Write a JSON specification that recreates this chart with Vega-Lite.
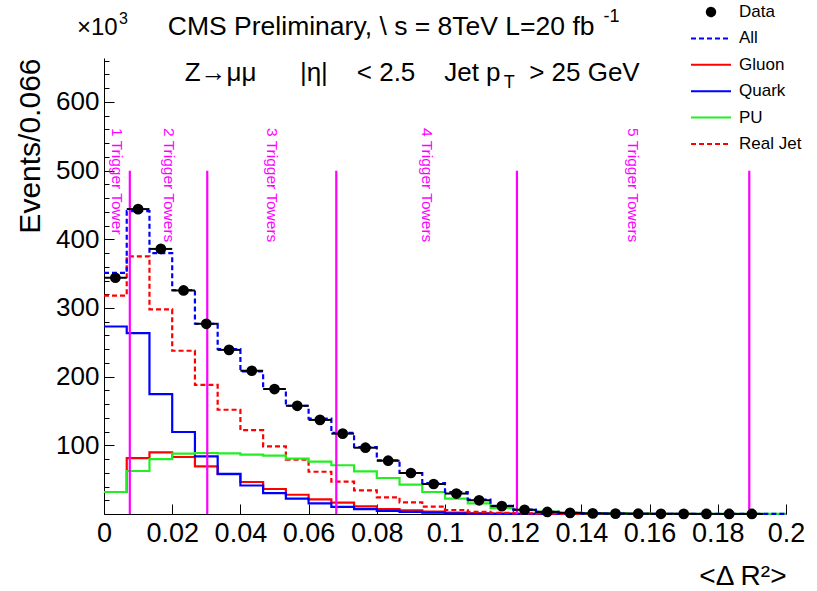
{
  "$schema": "https://vega.github.io/schema/vega-lite/v6.json",
  "width": 682,
  "height": 456,
  "autosize": {"type": "none"},
  "padding": {"left": 104, "top": 58, "right": 31, "bottom": 77},
  "background": "white",
  "config": {"view": {"stroke": null}, "font": "Liberation Sans"},
  "datasets": {
    "hist": [
      {"lo": 0, "Gluon": 32, "Quark": 273, "PU": 32, "Real Jet": 318, "All": 351},
      {"lo": 0.006667, "Gluon": 81.5, "Quark": 263.5, "PU": 62.6, "Real Jet": 375, "All": 441},
      {"lo": 0.013333, "Gluon": 89.8, "Quark": 174.7, "PU": 80, "Real Jet": 298, "All": 380},
      {"lo": 0.02, "Gluon": 83, "Quark": 119.4, "PU": 87.8, "Real Jet": 237.7, "All": 326},
      {"lo": 0.026667, "Gluon": 69.4, "Quark": 83.9, "PU": 88.8, "Real Jet": 188, "All": 277},
      {"lo": 0.033333, "Gluon": 58, "Quark": 58.5, "PU": 88.3, "Real Jet": 151.8, "All": 240},
      {"lo": 0.04, "Gluon": 46.6, "Quark": 41.5, "PU": 86.4, "Real Jet": 122, "All": 207.5},
      {"lo": 0.046667, "Gluon": 36.4, "Quark": 30.5, "PU": 85, "Real Jet": 98.5, "All": 182},
      {"lo": 0.053333, "Gluon": 28, "Quark": 22.5, "PU": 80.5, "Real Jet": 79, "All": 157.6},
      {"lo": 0.06, "Gluon": 21.3, "Quark": 15.5, "PU": 76.3, "Real Jet": 61.5, "All": 139},
      {"lo": 0.066667, "Gluon": 16.5, "Quark": 10.5, "PU": 71, "Real Jet": 47, "All": 118},
      {"lo": 0.073333, "Gluon": 11, "Quark": 7, "PU": 62, "Real Jet": 34.4, "All": 97.5},
      {"lo": 0.08, "Gluon": 7.3, "Quark": 4.5, "PU": 52.4, "Real Jet": 24.3, "All": 78},
      {"lo": 0.086667, "Gluon": 5.3, "Quark": 3, "PU": 42.7, "Real Jet": 17, "All": 59.7},
      {"lo": 0.093333, "Gluon": 3.5, "Quark": 2, "PU": 32, "Real Jet": 10.8, "All": 45},
      {"lo": 0.1, "Gluon": 2, "Quark": 1, "PU": 22.5, "Real Jet": 5.8, "All": 32},
      {"lo": 0.106667, "Gluon": 1, "Quark": 0.6, "PU": 15.5, "Real Jet": 3.2, "All": 21},
      {"lo": 0.113333, "Gluon": 0.5, "Quark": 0.3, "PU": 8.7, "Real Jet": 1.5, "All": 12},
      {"lo": 0.12, "Gluon": 0.3, "Quark": 0.2, "PU": 5.5, "Real Jet": 0.8, "All": 6.3},
      {"lo": 0.126667, "Gluon": 0.1, "Quark": 0.1, "PU": 3.4, "Real Jet": 0.4, "All": 3},
      {"lo": 0.133333, "Gluon": 0.1, "Quark": 0.1, "PU": 2, "Real Jet": 0.2, "All": 1.6},
      {"lo": 0.14, "Gluon": 0.1, "Quark": 0.05, "PU": 1.2, "Real Jet": 0.1, "All": 0.9},
      {"lo": 0.146667, "Gluon": 0.05, "Quark": 0.05, "PU": 0.8, "Real Jet": 0.1, "All": 0.6},
      {"lo": 0.153333, "Gluon": 0.05, "Quark": 0.03, "PU": 0.5, "Real Jet": 0.1, "All": 0.4},
      {"lo": 0.16, "Gluon": 0.03, "Quark": 0.02, "PU": 0.4, "Real Jet": 0.05, "All": 0.3},
      {"lo": 0.166667, "Gluon": 0.02, "Quark": 0.02, "PU": 0.3, "Real Jet": 0.05, "All": 0.2},
      {"lo": 0.173333, "Gluon": 0.02, "Quark": 0.01, "PU": 0.2, "Real Jet": 0.03, "All": 0.15},
      {"lo": 0.18, "Gluon": 0.01, "Quark": 0.01, "PU": 0.2, "Real Jet": 0.02, "All": 0.1},
      {"lo": 0.186667, "Gluon": 0.01, "Quark": 0.01, "PU": 0.1, "Real Jet": 0.02, "All": 0.1},
      {"lo": 0.193333, "Gluon": 0.01, "Quark": 0.01, "PU": 0.1, "Real Jet": 0.01, "All": 0.05},
      {"lo": 0.2, "Gluon": 0.01, "Quark": 0.01, "PU": 0.1, "Real Jet": 0.01, "All": 0.05}
    ],
    "points": [
      {"c": 0.003333, "lo": 0, "hi": 0.006667, "v": 344},
      {"c": 0.01, "lo": 0.006667, "hi": 0.013333, "v": 444},
      {"c": 0.016667, "lo": 0.013333, "hi": 0.02, "v": 386},
      {"c": 0.023333, "lo": 0.02, "hi": 0.026667, "v": 325.5},
      {"c": 0.03, "lo": 0.026667, "hi": 0.033333, "v": 277},
      {"c": 0.036667, "lo": 0.033333, "hi": 0.04, "v": 239},
      {"c": 0.043333, "lo": 0.04, "hi": 0.046667, "v": 208.6},
      {"c": 0.05, "lo": 0.046667, "hi": 0.053333, "v": 182},
      {"c": 0.056667, "lo": 0.053333, "hi": 0.06, "v": 157.6},
      {"c": 0.063333, "lo": 0.06, "hi": 0.066667, "v": 137},
      {"c": 0.07, "lo": 0.066667, "hi": 0.073333, "v": 117},
      {"c": 0.076667, "lo": 0.073333, "hi": 0.08, "v": 96.5},
      {"c": 0.083333, "lo": 0.08, "hi": 0.086667, "v": 77.6},
      {"c": 0.09, "lo": 0.086667, "hi": 0.093333, "v": 59.7},
      {"c": 0.096667, "lo": 0.093333, "hi": 0.1, "v": 43.7},
      {"c": 0.103333, "lo": 0.1, "hi": 0.106667, "v": 29.8},
      {"c": 0.11, "lo": 0.106667, "hi": 0.113333, "v": 20},
      {"c": 0.116667, "lo": 0.113333, "hi": 0.12, "v": 11.5},
      {"c": 0.123333, "lo": 0.12, "hi": 0.126667, "v": 6.2},
      {"c": 0.13, "lo": 0.126667, "hi": 0.133333, "v": 3},
      {"c": 0.136667, "lo": 0.133333, "hi": 0.14, "v": 1.6},
      {"c": 0.143333, "lo": 0.14, "hi": 0.146667, "v": 0.9},
      {"c": 0.15, "lo": 0.146667, "hi": 0.153333, "v": 0.6},
      {"c": 0.156667, "lo": 0.153333, "hi": 0.16, "v": 0.4},
      {"c": 0.163333, "lo": 0.16, "hi": 0.166667, "v": 0.3},
      {"c": 0.17, "lo": 0.166667, "hi": 0.173333, "v": 0.2},
      {"c": 0.176667, "lo": 0.173333, "hi": 0.18, "v": 0.15},
      {"c": 0.183333, "lo": 0.18, "hi": 0.186667, "v": 0.1},
      {"c": 0.19, "lo": 0.186667, "hi": 0.193333, "v": 0.1}
    ],
    "towers": [
      {"x": 0.00757},
      {"x": 0.03028},
      {"x": 0.06812},
      {"x": 0.1211},
      {"x": 0.18923}
    ],
    "towerLabels": [
      {"m": 0.003785, "label": "1 Trigger Tower"},
      {"m": 0.018925, "label": "2 Trigger Towers"},
      {"m": 0.0492, "label": "3 Trigger Towers"},
      {"m": 0.09461, "label": "4 Trigger Towers"},
      {"m": 0.15517, "label": "5 Trigger Towers"}
    ]
  },
  "resolve": {"axis": {"y": "independent"}},
  "layer": [
    {
      "layer": [
        {
          "data": {"name": "hist"},
          "transform": [{"fold": ["Gluon", "Quark", "Real Jet", "PU", "All"], "as": ["s", "v"]}],
          "mark": {"type": "line", "interpolate": "step-after", "strokeWidth": 2.2},
          "encoding": {
            "x": {
              "field": "lo", "type": "quantitative",
              "scale": {"domain": [0, 0.2], "nice": false, "zero": false},
              "axis": {
                "values": [0, 0.005, 0.01, 0.015, 0.02, 0.025, 0.03, 0.035, 0.04, 0.045, 0.05, 0.055, 0.06, 0.065, 0.07, 0.075, 0.08, 0.085, 0.09, 0.095, 0.1, 0.105, 0.11, 0.115, 0.12, 0.125, 0.13, 0.135, 0.14, 0.145, 0.15, 0.155, 0.16, 0.165, 0.17, 0.175, 0.18, 0.185, 0.19, 0.195, 0.2],
                "labelExpr": "abs(datum.value*50 - round(datum.value*50)) < 1e-6 ? format(datum.value, '~g') : ''",
                "tickSize": {"condition": {"test": "abs(datum.value*50 - round(datum.value*50)) < 1e-6", "value": -10}, "value": -5},
                "labelFontSize": {"condition": {"test": "abs(datum.value*50 - round(datum.value*50)) < 1e-6", "value": 27}, "value": 0},
                "labelPadding": 16,
                "labelColor": "black",
                "labelBaseline": "top",
                "labelFlush": false,
                "labelOverlap": false,
                "tickColor": "black",
                "tickWidth": 1,
                "domainColor": "black",
                "domainWidth": 1,
                "grid": false,
                "title": "<Δ R²>",
                "titleFontSize": 28,
                "titleFontWeight": "normal",
                "titleColor": "black",
                "titleX": 682,
                "titleY": 70,
                "titleAlign": "right",
                "titleBaseline": "alphabetic"
              }
            },
            "y": {
              "field": "v", "type": "quantitative",
              "scale": {"domain": [0, 664], "nice": false},
              "axis": {
                "orient": "left",
                "values": [0, 100, 200, 300, 400, 500, 600],
                "labelExpr": "datum.value > 0 ? format(datum.value, 'd') : ''",
                "tickSize": -10,
                "labelFontSize": 26,
                "labelPadding": 15,
                "labelColor": "black",
                "labelOverlap": false,
                "labelFlush": false,
                "tickColor": "black",
                "tickWidth": 1,
                "domainColor": "black",
                "domainWidth": 1,
                "grid": false,
                "title": "Events/0.066",
                "titleFontSize": 30,
                "titleFontWeight": "normal",
                "titleColor": "black",
                "titleX": -74,
                "titleY": 0,
                "titleAngle": -90,
                "titleAlign": "right",
                "titleBaseline": "middle"
              }
            },
            "color": {
              "field": "s", "type": "nominal",
              "scale": {"domain": ["Data", "All", "Gluon", "Quark", "PU", "Real Jet"], "range": ["black", "#0000ff", "#ff0000", "#0000ff", "#22ee22", "#ff0000"]},
              "legend": {
                "orient": "none",
                "legendX": 586,
                "legendY": -56,
                "title": null,
                "symbolType": "stroke",
                "symbolSize": 1600,
                "symbolStrokeWidth": 2,
                "labelFontSize": 17,
                "labelColor": "black",
                "labelOffset": 7,
                "clipHeight": 20,
                "rowPadding": 6.4,
                "padding": 0,
                "encode": {
                  "symbols": {
                    "update": {
                      "shape": {"signal": "datum.value === 'Data' ? 'circle' : 'stroke'"},
                      "size": {"signal": "datum.value === 'Data' ? 70 : 1600"},
                      "fill": {"signal": "datum.value === 'Data' ? 'black' : 'transparent'"},
                      "strokeDash": {"signal": "datum.value === 'All' || datum.value === 'Real Jet' ? [5, 3] : [1, 0]"}
                    }
                  }
                }
              }
            },
            "strokeDash": {
              "field": "s", "type": "nominal",
              "scale": {"domain": ["All", "Gluon", "Quark", "PU", "Real Jet"], "range": [[5, 3], [1, 0], [1, 0], [1, 0], [5, 3]]},
              "legend": null
            }
          }
        },
        {
          "data": {"name": "towers"},
          "mark": {"type": "rule", "color": "#ff00ff", "strokeWidth": 2.2},
          "encoding": {
            "x": {"field": "x", "type": "quantitative"},
            "y": {"datum": 0},
            "y2": {"datum": 500}
          }
        },
        {
          "data": {"name": "towerLabels"},
          "mark": {"type": "text", "angle": 90, "align": "left", "baseline": "middle", "fontSize": 15.5, "color": "#ff00ff", "font": "Liberation Sans"},
          "encoding": {
            "x": {"field": "m", "type": "quantitative"},
            "y": {"datum": 562},
            "text": {"field": "label"}
          }
        },
        {
          "data": {"name": "points"},
          "mark": {"type": "point", "filled": true, "color": "black", "opacity": 1, "size": 115},
          "encoding": {
            "x": {"field": "c", "type": "quantitative"},
            "y": {"field": "v", "type": "quantitative"}
          }
        },
        {
          "data": {"values": [{}]},
          "mark": {"type": "text", "align": "left", "baseline": "alphabetic", "fontSize": 26.5, "color": "black", "font": "Liberation Sans"},
          "encoding": {"x": {"datum": 0.01873}, "y": {"datum": 698}, "text": {"value": "CMS Preliminary, \\ s = 8TeV L=20 fb"}}
        },
        {
          "data": {"values": [{}]},
          "mark": {"type": "text", "align": "left", "baseline": "alphabetic", "fontSize": 18, "color": "black", "font": "Liberation Sans"},
          "encoding": {"x": {"datum": 0.1465}, "y": {"datum": 717}, "text": {"value": "-1"}}
        },
        {
          "data": {"values": [{}]},
          "mark": {"type": "text", "align": "left", "baseline": "alphabetic", "fontSize": 26, "color": "black", "font": "Liberation Sans"},
          "encoding": {"x": {"datum": 0.02367}, "y": {"datum": 630}, "text": {"value": "Z→μμ\u00a0\u00a0\u00a0\u00a0\u00a0\u00a0|η|\u00a0\u00a0\u00a0\u00a0<\u00a02.5\u00a0\u00a0\u00a0\u00a0Jet\u00a0p"}}
        },
        {
          "data": {"values": [{}]},
          "mark": {"type": "text", "align": "left", "baseline": "alphabetic", "fontSize": 18, "color": "black", "font": "Liberation Sans"},
          "encoding": {"x": {"datum": 0.1172}, "y": {"datum": 620}, "text": {"value": "T"}}
        },
        {
          "data": {"values": [{}]},
          "mark": {"type": "text", "align": "right", "baseline": "alphabetic", "fontSize": 26, "color": "black", "font": "Liberation Sans"},
          "encoding": {"x": {"datum": 0.1571}, "y": {"datum": 630}, "text": {"value": ">\u00a025\u00a0GeV"}}
        },
        {
          "data": {"values": [{}]},
          "mark": {"type": "text", "align": "right", "baseline": "alphabetic", "fontSize": 24, "color": "black", "font": "Liberation Sans"},
          "encoding": {"x": {"datum": 0.0040}, "y": {"datum": 698}, "text": {"value": "×10"}}
        },
        {
          "data": {"values": [{}]},
          "mark": {"type": "text", "align": "left", "baseline": "alphabetic", "fontSize": 16, "color": "black", "font": "Liberation Sans"},
          "encoding": {"x": {"datum": 0.0044}, "y": {"datum": 713}, "text": {"value": "3"}}
        }
      ]
    },
    {
      "data": {"name": "points"},
      "mark": {"type": "rule", "color": "black", "strokeWidth": 2},
      "encoding": {
        "x": {"field": "lo", "type": "quantitative"},
        "x2": {"field": "hi"},
        "y": {
          "field": "v", "type": "quantitative",
          "axis": {
            "orient": "left",
            "values": [20, 40, 60, 80, 120, 140, 160, 180, 220, 240, 260, 280, 320, 340, 360, 380, 420, 440, 460, 480, 520, 540, 560, 580, 620, 640, 660],
            "labels": false,
            "domain": false,
            "grid": false,
            "tickSize": -5,
            "tickColor": "black",
            "tickWidth": 1,
            "title": null
          }
        }
      }
    }
  ]
}
